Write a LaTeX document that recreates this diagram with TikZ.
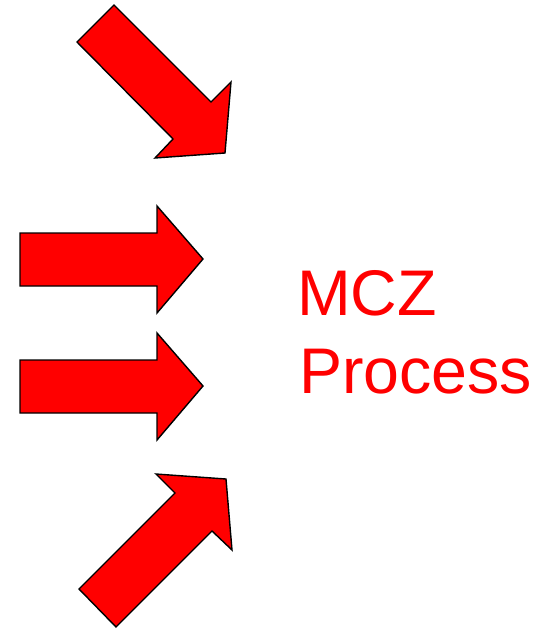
\documentclass[tikz,border=0pt]{standalone}
\usepackage{fontspec}
\setmainfont{Liberation Sans}
\usepackage{tikz}
\usetikzlibrary{positioning}
\definecolor{mczred}{RGB}{255,0,0}

\begin{document}
\begin{tikzpicture}[x=1pt, y=-1pt,
    bigarrow/.style={fill=mczred, draw=black, line width=1.4pt, line join=miter},
    label/.style={text=mczred, font=\fontsize{64.5}{76}\selectfont, inner sep=0pt, anchor=base west}]
    \useasboundingbox (0,0) rectangle (538,629);
    % diagonal arrows
    \draw [bigarrow] (114,5) -- (211,102) -- (231,82) -- (225,153) -- (155,158) -- (173,139) -- (77,42) -- cycle;
    \draw [bigarrow] (116,627) -- (212,531) -- (232,550) -- (226,479) -- (156,474) -- (175,493) -- (79,589) -- cycle;
    % straight arrows
    \foreach \y in {233, 360}
        \draw [bigarrow] (20,\y) -- (157,\y) -- (157,\y-27) -- (203,\y+26) -- (157,\y+80) -- (157,\y+53) -- (20,\y+53) -- cycle;
    \node [label] (mcz) at (297,315) {MCZ};
    \node [label] (process) at (299,393) {Process};
\end{tikzpicture}
\end{document}
